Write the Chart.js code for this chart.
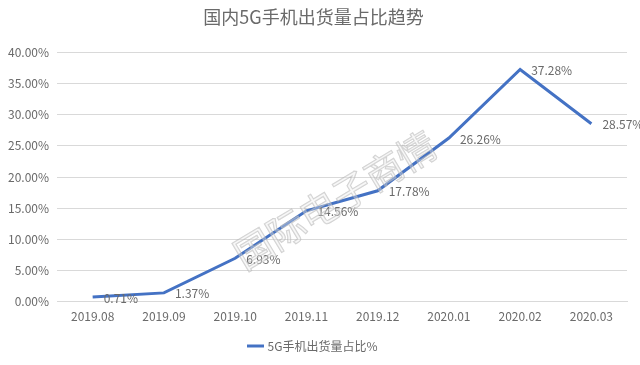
<!DOCTYPE html>
<html>
<head>
<meta charset="utf-8">
<script src="https://cdn.jsdelivr.net/npm/chart.js@4"></script>
<style>
  body { margin: 0; background: #fff; }
  #wrap { width: 640px; height: 365px; }
</style>
</head>
<body>
<div id="wrap"><canvas id="myChart"></canvas></div>
<script>
'use strict';

let months = ['2019.08', '2019.09', '2019.10', '2019.11', '2019.12', '2020.01', '2020.02', '2020.03'];
let shareValues = [0.71, 1.37, 6.93, 14.56, 17.78, 26.26, 37.28, 28.57];
let yTicks = [0, 5, 10, 15, 20, 25, 30, 35, 40];
let seriesName = '5G手机出货量占比%';
let chartTitle = '国内5G手机出货量占比趋势';
let watermark = '国际电子商情';

const fontFamily = '"Noto Sans CJK SC", sans-serif';
const grey = '#6a6a6a';

// labels sit to the right of each point, like Excel's "right" position
let pointLabels = {
  id: 'pointLabels',
  afterDatasetsDraw(chart){
    let ctx = chart.ctx;
    let meta = chart.getDatasetMeta(0);
    ctx.save();
    ctx.font = '12px ' + fontFamily;
    ctx.fillStyle = grey;
    ctx.textAlign = 'left';
    ctx.textBaseline = 'middle';
    for(let i = 0; i < meta.data.length; i++){
      let pt = meta.data[i];
      ctx.fillText(shareValues[i].toFixed(2) + '%', pt.x + 11, pt.y + 1);
    }
    ctx.restore();
  }
};

// faint outlined watermark across the middle of the plot
let watermarkText = {
  id: 'watermarkText',
  afterDraw(chart){
    let ctx = chart.ctx;
    ctx.save();
    ctx.translate(335, 200);
    ctx.rotate(-31 * Math.PI / 180);
    ctx.font = '38px "Noto Sans CJK SC", sans-serif';
    ctx.textAlign = 'center';
    ctx.textBaseline = 'middle';
    ctx.strokeStyle = 'rgba(170,170,170,0.55)';
    ctx.lineWidth = 1.2;
    ctx.strokeText(watermark, 0, 0);
    ctx.fillStyle = 'rgba(235,235,235,0.35)';
    ctx.fillText(watermark, 0, 0);
    ctx.restore();
  }
};

const ctx = document.getElementById('myChart');

new Chart(ctx, {
  type: 'line',
  data: {
    labels: months,
    datasets: [{
      label: seriesName,
      data: shareValues,
      borderColor: '#4472C4',
      backgroundColor: '#4472C4',
      borderWidth: 3,
      pointRadius: 0,
      tension: 0
    }]
  },
  options: {
    responsive: true,
    maintainAspectRatio: false,
    animation: false,
    layout: { padding: { left: 0, right: 13, top: 4, bottom: 3 } },
    plugins: {
      title: {
        display: true,
        text: chartTitle,
        color: grey,
        font: { family: fontFamily, size: 18, weight: 'normal' },
        padding: { top: 2, bottom: 25 }
      },
      legend: {
        position: 'bottom',
        labels: {
          color: grey,
          font: { family: fontFamily, size: 12 },
          usePointStyle: true,
          pointStyle: 'line',
          boxWidth: 36,
          padding: 7
        }
      },
      tooltip: { enabled: false }
    },
    scales: {
      x: {
        offset: true,
        grid: { display: false, drawTicks: false },
        border: { color: '#d9d9d9' },
        ticks: { color: grey, font: { family: fontFamily, size: 12 }, padding: 8, maxRotation: 0 },
        // blank title only keeps the gap between tick labels and legend
        title: { display: true, text: ' ', font: { size: 1 }, padding: { top: 0, bottom: 0 } }
      },
      y: {
        min: 0,
        max: 40,
        afterBuildTicks(axis){
          axis.ticks = yTicks.map(v => ({ value: v }));
        },
        grid: { color: '#d9d9d9', drawTicks: false },
        border: { display: false },
        ticks: {
          color: grey,
          font: { family: fontFamily, size: 12 },
          padding: 8,
          callback: v => v.toFixed(2) + '%'
        }
      }
    }
  },
  plugins: [pointLabels, watermarkText]
});
</script>
</body>
</html>
